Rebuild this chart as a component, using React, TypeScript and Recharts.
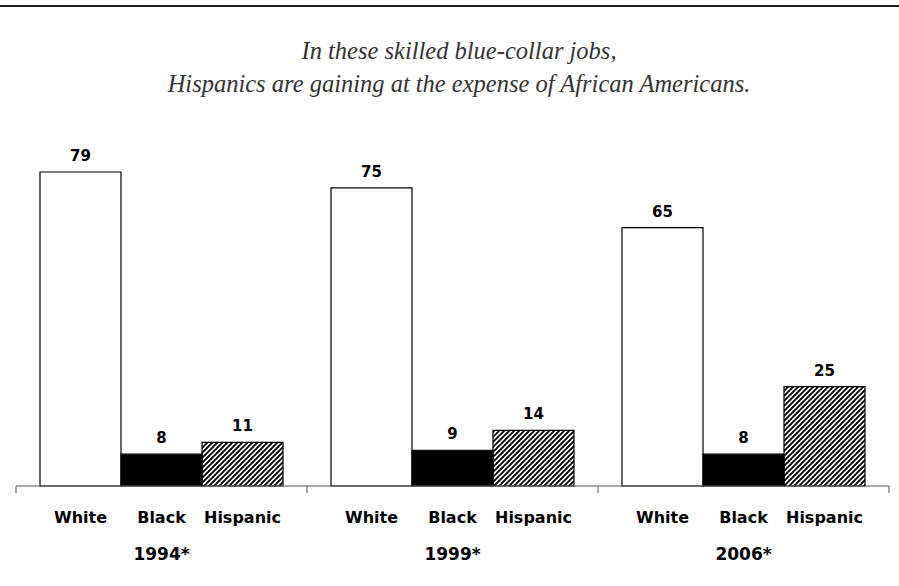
import React from 'react';
import { BarChart, Bar, XAxis, YAxis, LabelList } from 'recharts';

// data
const years = ['1994*', '1999*', '2006*'];
const groups = ['White', 'Black', 'Hispanic'];
const white = [79, 75, 65];
const black = [8, 9, 8];
const hispanic = [11, 14, 25];

const data = years.map((year, i) => ({
  year,
  White: white[i],
  Black: black[i],
  Hispanic: hispanic[i],
}));

const W = 899;
const H = 586;
const MARGIN = { top: 168, right: 10, left: 16, bottom: 0 };
const BAND = (W - MARGIN.left - MARGIN.right) / years.length;
const GAP = 24;
const BAR = (BAND - 2 * GAP) / groups.length;

const labelFont = '"DejaVu Sans", Arial, sans-serif';

const GroupTick = (props: any) => {
  const { x, y, payload, index } = props;
  const top = y - 8; // axis line
  const left = x - BAND / 2;
  return (
    <g>
      <line x1={left} y1={top} x2={left} y2={top + 7} stroke="#555" />
      {index === years.length - 1 && (
        <line x1={left + BAND} y1={top} x2={left + BAND} y2={top + 7} stroke="#555" />
      )}
      {groups.map((g, i) => (
        <text
          key={g}
          x={x + (i - 1) * BAR}
          y={top + 37}
          textAnchor="middle"
          fontFamily={labelFont}
          fontWeight="bold"
          fontSize={16}
          fill="#000"
        >
          {g}
        </text>
      ))}
      <text
        x={x}
        y={top + 74}
        textAnchor="middle"
        fontFamily={labelFont}
        fontWeight="bold"
        fontSize={17}
        fill="#000"
      >
        {payload.value}
      </text>
    </g>
  );
};

const valueLabel = {
  position: 'top' as const,
  offset: 11,
  fontFamily: labelFont,
  fontWeight: 'bold',
  fontSize: 15,
  fill: '#000',
};

export default function App() {
  return (
    <div style={{ position: 'absolute', left: 0, top: 0, width: W, height: H, background: '#fff' }}>
      <svg width={0} height={0} style={{ position: 'absolute' }}>
        <defs>
          <pattern id="hatch" width={5} height={5} patternUnits="userSpaceOnUse">
            <path d="M-1,1 l2,-2 M0,5 l5,-5 M4,6 l2,-2" stroke="#000" strokeWidth={1.9} />
          </pattern>
        </defs>
      </svg>
      <div style={{ position: 'absolute', left: 0, top: 5, width: W, height: 2, background: '#1a1a1a' }} />
      <div
        style={{
          position: 'absolute',
          left: 0,
          top: 34,
          width: 918,
          textAlign: 'center',
          fontFamily: '"Liberation Serif", serif',
          fontStyle: 'italic',
          fontSize: 24.5,
          lineHeight: '33px',
          color: '#333',
        }}
      >
        In these skilled blue-collar jobs,
        <br />
        Hispanics are gaining at the expense of African Americans.
      </div>
      <div style={{ position: 'absolute', left: 0, top: 0 }}>
        <BarChart width={W} height={H} data={data} margin={MARGIN} barCategoryGap={GAP} barGap={0}>
          <XAxis
            dataKey="year"
            height={100}
            tickLine={false}
            axisLine={{ stroke: '#555' }}
            tick={<GroupTick />}
            interval={0}
          />
          <YAxis hide domain={[0, 80]} />
          <Bar dataKey="White" fill="#fff" stroke="#000" strokeWidth={1.2} isAnimationActive={false}>
            <LabelList dataKey="White" {...valueLabel} />
          </Bar>
          <Bar dataKey="Black" fill="#000" stroke="#000" strokeWidth={1.2} isAnimationActive={false}>
            <LabelList dataKey="Black" {...valueLabel} />
          </Bar>
          <Bar dataKey="Hispanic" fill="url(#hatch)" stroke="#000" strokeWidth={1.2} isAnimationActive={false}>
            <LabelList dataKey="Hispanic" {...valueLabel} />
          </Bar>
        </BarChart>
      </div>
    </div>
  );
}
